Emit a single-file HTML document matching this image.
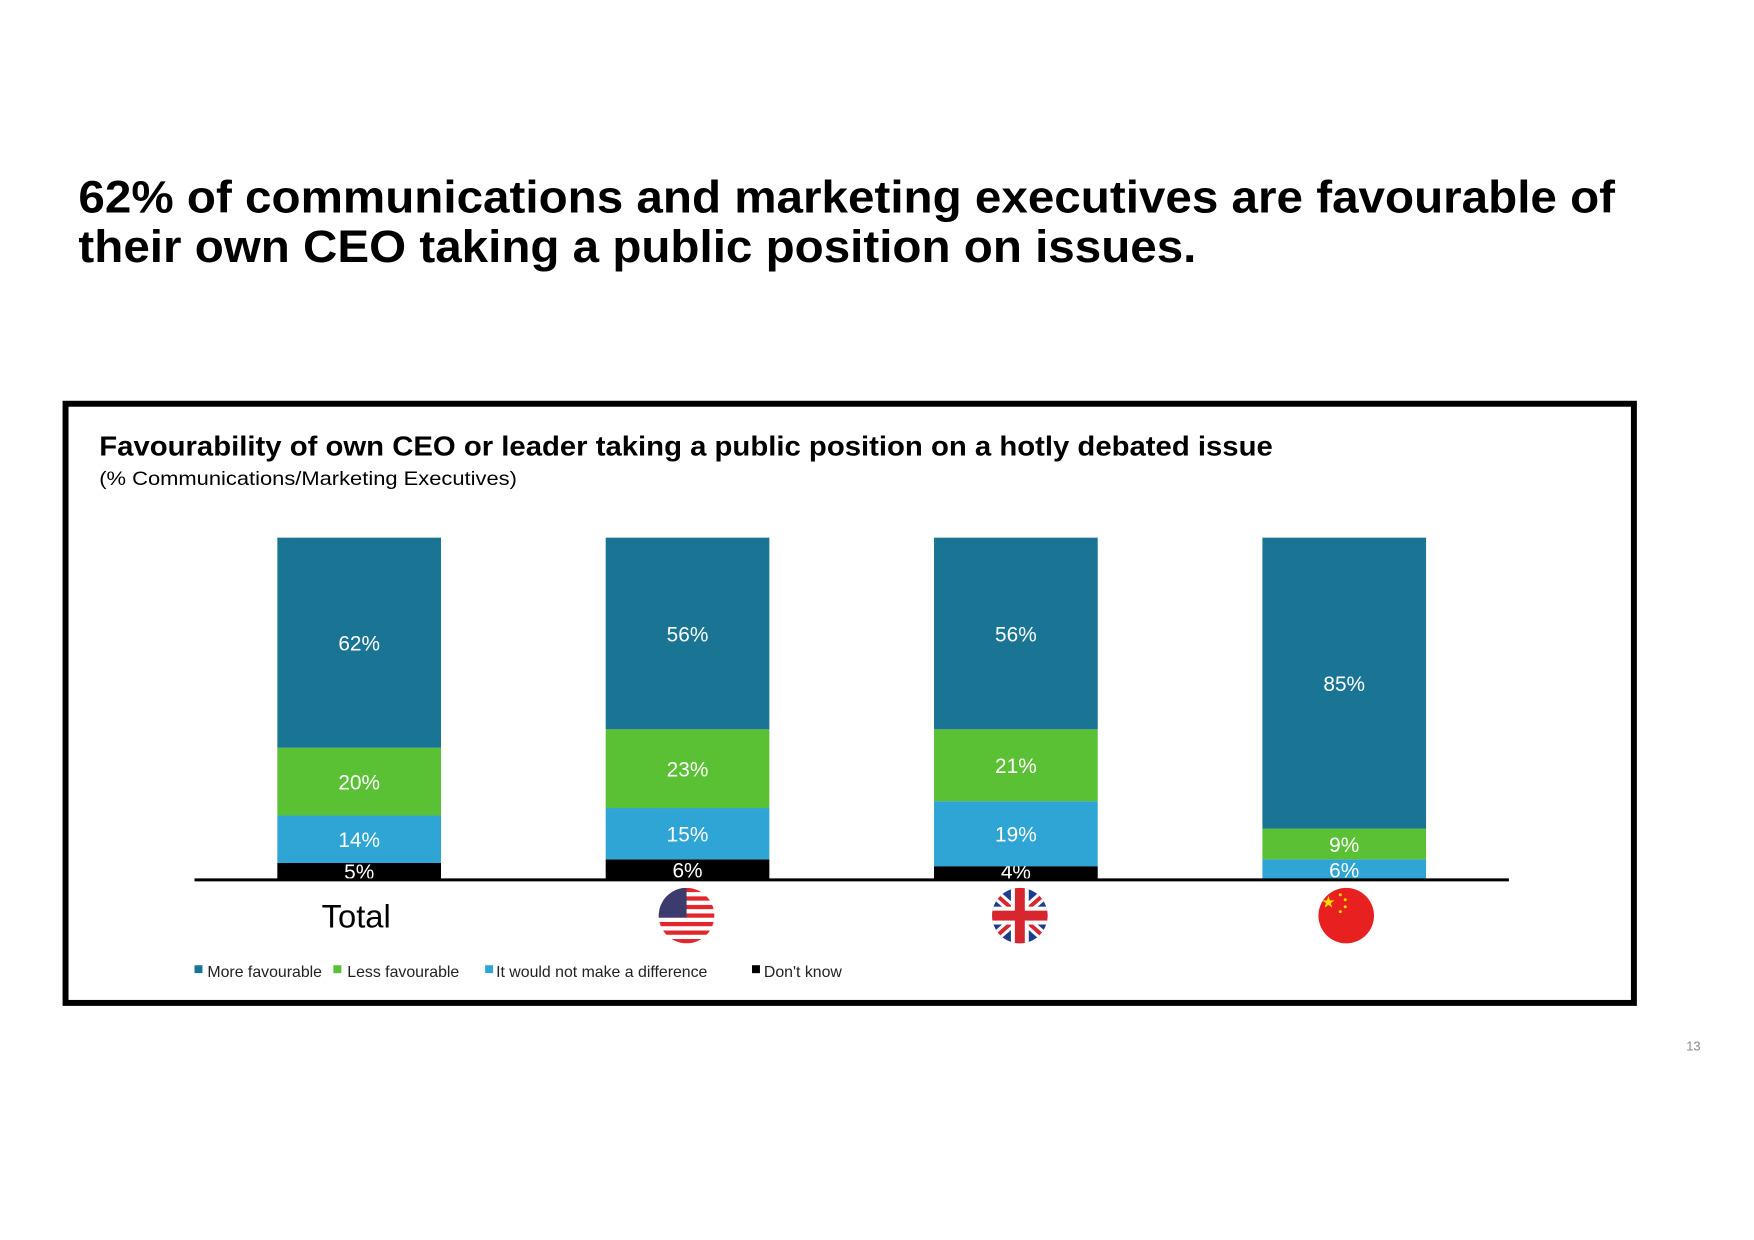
<!DOCTYPE html>
<html><head><meta charset="utf-8"><style>
html,body{margin:0;padding:0;background:#fff;}
svg{display:block;font-family:"Liberation Sans",Arial,sans-serif;}
</style></head><body>
<svg id="chart" width="1754" height="1240" viewBox="0 0 1768 1250">
<text x="79" y="214" font-size="46" font-weight="bold" fill="#000" textLength="1549" lengthAdjust="spacingAndGlyphs">62% of communications and marketing executives are favourable of</text>
<text x="79" y="264" font-size="46" font-weight="bold" fill="#000" textLength="1127" lengthAdjust="spacingAndGlyphs">their own CEO taking a public position on issues.</text>
<rect x="66" y="407" width="1581" height="604" fill="none" stroke="#000" stroke-width="6"/>
<text x="100" y="459" font-size="28" font-weight="bold" fill="#000" textLength="1183" lengthAdjust="spacingAndGlyphs">Favourability of own CEO or leader taking a public position on a hotly debated issue</text>
<text x="100" y="489" font-size="20" fill="#000" textLength="421" lengthAdjust="spacingAndGlyphs">(% Communications/Marketing Executives)</text>
<g id="bars"></g>
<line x1="196" y1="887" x2="1521" y2="887" stroke="#000" stroke-width="3"/>
<text x="359" y="935" font-size="33" text-anchor="middle" fill="#000">Total</text>
<g>
<clipPath id="cu"><circle cx="692" cy="923" r="28"/></clipPath>
<g clip-path="url(#cu)"><rect x="660" y="895" width="64" height="56" fill="#fff"/>
<g fill="#e3262b"><rect x="660" y="895" width="64" height="4.3"/><rect x="660" y="903.6" width="64" height="4.3"/><rect x="660" y="912.2" width="64" height="4.3"/><rect x="660" y="920.8" width="64" height="4.3"/><rect x="660" y="929.4" width="64" height="4.3"/><rect x="660" y="938" width="64" height="4.3"/><rect x="660" y="946.6" width="64" height="4.3"/></g>
<rect x="660" y="895" width="32" height="30" fill="#3c3b6e"/></g></g>
<g>
<clipPath id="ck"><circle cx="1028" cy="923" r="28"/></clipPath>
<g clip-path="url(#ck)"><rect x="996" y="895" width="64" height="56" fill="#1f3d8c"/>
<line x1="996" y1="895" x2="1060" y2="951" stroke="#fff" stroke-width="10"/><line x1="1060" y1="895" x2="996" y2="951" stroke="#fff" stroke-width="10"/>
<line x1="996" y1="895" x2="1060" y2="951" stroke="#d8262e" stroke-width="4"/><line x1="1060" y1="895" x2="996" y2="951" stroke="#d8262e" stroke-width="4"/>
<rect x="1019" y="895" width="18" height="56" fill="#fff"/><rect x="996" y="914" width="64" height="18" fill="#fff"/>
<rect x="1023" y="895" width="10" height="56" fill="#d8262e"/><rect x="996" y="918" width="64" height="10" fill="#d8262e"/></g></g>
<g>
<circle cx="1357" cy="923" r="28" fill="#e8201f"/>
<text x="1339" y="915" font-size="16" fill="#ffde00" text-anchor="middle">★</text>
<circle cx="1351" cy="902" r="1.5" fill="#ffde00"/><circle cx="1356" cy="907" r="1.5" fill="#ffde00"/><circle cx="1356" cy="914" r="1.5" fill="#ffde00"/><circle cx="1351" cy="919" r="1.5" fill="#ffde00"/>
</g>
<g font-size="16" fill="#222">
<rect x="196" y="973" width="8" height="8" fill="#1a7595"/><text x="209" y="985">More favourable</text>
<rect x="336" y="973" width="8" height="8" fill="#5ac034"/><text x="350" y="985">Less favourable</text>
<rect x="489" y="973" width="8" height="8" fill="#2ea5d4"/><text x="500" y="985">It would not make a difference</text>
<rect x="758" y="973" width="8" height="8" fill="#000"/><text x="770" y="985">Don't know</text>
</g>
<text x="1707" y="1059" font-size="13" fill="#888" text-anchor="middle">13</text>
</svg>
<script>
const categories = ["Total", "USA", "UK", "China"];
const dontKnow = [5, 6, 4, 0];
const noDifference = [14, 15, 19, 6];
const lessFavourable = [20, 23, 21, 9];
const moreFavourable = [62, 56, 56, 85];
const seriesNames = ["dont-know", "no-difference", "less-favourable", "more-favourable"];
const seriesColors = ["#000000", "#2ea5d4", "#5ac034", "#1a7595"];

const NS = "http://www.w3.org/2000/svg";
const g = document.getElementById("bars");
const baseY = 887, topY = 542, x0 = 362, step = 331, barW = 165;
function xCenter(i){ return x0 + i * step; }
const series = [dontKnow, noDifference, lessFavourable, moreFavourable];
categories.forEach((c, i) => {
  const total = series.reduce((s, arr) => s + arr[i], 0);
  const yScale = v => (v / total) * (baseY - topY);
  let y = baseY;
  series.forEach((arr, s) => {
    const v = arr[i];
    if (v <= 0) return;
    const h = yScale(v);
    y -= h;
    const r = document.createElementNS(NS, "rect");
    r.setAttribute("x", xCenter(i) - barW / 2);
    r.setAttribute("y", y);
    r.setAttribute("width", barW);
    r.setAttribute("height", h);
    r.setAttribute("fill", seriesColors[s]);
    
    
    g.appendChild(r);
    const t = document.createElementNS(NS, "text");
    t.setAttribute("x", xCenter(i));
    t.setAttribute("y", Math.min(y + h / 2 + 8, baseY - 1));
    t.setAttribute("text-anchor", "middle");
    t.setAttribute("font-size", "21");
    t.setAttribute("fill", "#fff");
    t.textContent = v + "%";
    
    
    g.appendChild(t);
  });
});
</script>
</body></html>
